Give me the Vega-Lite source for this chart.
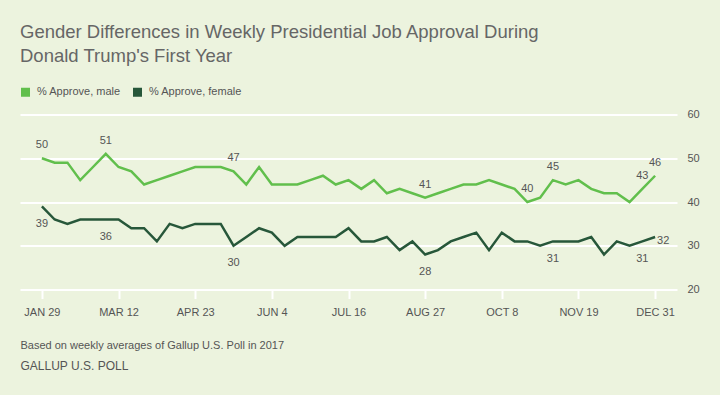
{
  "$schema": "https://vega.github.io/schema/vega-lite/v6.json",
  "autosize": {"type": "none"},
  "width": 657,
  "height": 175,
  "padding": {"left": 20, "top": 114.5, "right": 43, "bottom": 105.5},
  "background": "#ECF3DE",
  "config": {
    "view": {"stroke": null},
    "font": "Liberation Sans"
  },
  "title": {
    "text": ["Gender Differences in Weekly Presidential Job Approval During", "Donald Trump's First Year"],
    "anchor": "start",
    "frame": "group",
    "font": "Liberation Sans",
    "fontSize": 18.5,
    "fontWeight": "normal",
    "color": "#666666",
    "lineHeight": 24,
    "baseline": "alphabetic",
    "offset": 6.5
  },
  "data": {
    "values": [
      {"date": "2017-01-29", "group": "% Approve, male", "value": 50, "label": true},
      {"date": "2017-02-05", "group": "% Approve, male", "value": 49, "label": false},
      {"date": "2017-02-12", "group": "% Approve, male", "value": 49, "label": false},
      {"date": "2017-02-19", "group": "% Approve, male", "value": 45, "label": false},
      {"date": "2017-02-26", "group": "% Approve, male", "value": 48, "label": false},
      {"date": "2017-03-05", "group": "% Approve, male", "value": 51, "label": true},
      {"date": "2017-03-12", "group": "% Approve, male", "value": 48, "label": false},
      {"date": "2017-03-19", "group": "% Approve, male", "value": 47, "label": false},
      {"date": "2017-03-26", "group": "% Approve, male", "value": 44, "label": false},
      {"date": "2017-04-02", "group": "% Approve, male", "value": 45, "label": false},
      {"date": "2017-04-09", "group": "% Approve, male", "value": 46, "label": false},
      {"date": "2017-04-16", "group": "% Approve, male", "value": 47, "label": false},
      {"date": "2017-04-23", "group": "% Approve, male", "value": 48, "label": false},
      {"date": "2017-04-30", "group": "% Approve, male", "value": 48, "label": false},
      {"date": "2017-05-07", "group": "% Approve, male", "value": 48, "label": false},
      {"date": "2017-05-14", "group": "% Approve, male", "value": 47, "label": true},
      {"date": "2017-05-21", "group": "% Approve, male", "value": 44, "label": false},
      {"date": "2017-05-28", "group": "% Approve, male", "value": 48, "label": false},
      {"date": "2017-06-04", "group": "% Approve, male", "value": 44, "label": false},
      {"date": "2017-06-11", "group": "% Approve, male", "value": 44, "label": false},
      {"date": "2017-06-18", "group": "% Approve, male", "value": 44, "label": false},
      {"date": "2017-06-25", "group": "% Approve, male", "value": 45, "label": false},
      {"date": "2017-07-02", "group": "% Approve, male", "value": 46, "label": false},
      {"date": "2017-07-09", "group": "% Approve, male", "value": 44, "label": false},
      {"date": "2017-07-16", "group": "% Approve, male", "value": 45, "label": false},
      {"date": "2017-07-23", "group": "% Approve, male", "value": 43, "label": false},
      {"date": "2017-07-30", "group": "% Approve, male", "value": 45, "label": false},
      {"date": "2017-08-06", "group": "% Approve, male", "value": 42, "label": false},
      {"date": "2017-08-13", "group": "% Approve, male", "value": 43, "label": false},
      {"date": "2017-08-20", "group": "% Approve, male", "value": 42, "label": false},
      {"date": "2017-08-27", "group": "% Approve, male", "value": 41, "label": true},
      {"date": "2017-09-03", "group": "% Approve, male", "value": 42, "label": false},
      {"date": "2017-09-10", "group": "% Approve, male", "value": 43, "label": false},
      {"date": "2017-09-17", "group": "% Approve, male", "value": 44, "label": false},
      {"date": "2017-09-24", "group": "% Approve, male", "value": 44, "label": false},
      {"date": "2017-10-01", "group": "% Approve, male", "value": 45, "label": false},
      {"date": "2017-10-08", "group": "% Approve, male", "value": 44, "label": false},
      {"date": "2017-10-15", "group": "% Approve, male", "value": 43, "label": false},
      {"date": "2017-10-22", "group": "% Approve, male", "value": 40, "label": true},
      {"date": "2017-10-29", "group": "% Approve, male", "value": 41, "label": false},
      {"date": "2017-11-05", "group": "% Approve, male", "value": 45, "label": true},
      {"date": "2017-11-12", "group": "% Approve, male", "value": 44, "label": false},
      {"date": "2017-11-19", "group": "% Approve, male", "value": 45, "label": false},
      {"date": "2017-11-26", "group": "% Approve, male", "value": 43, "label": false},
      {"date": "2017-12-03", "group": "% Approve, male", "value": 42, "label": false},
      {"date": "2017-12-10", "group": "% Approve, male", "value": 42, "label": false},
      {"date": "2017-12-17", "group": "% Approve, male", "value": 40, "label": false},
      {"date": "2017-12-24", "group": "% Approve, male", "value": 43, "label": true},
      {"date": "2017-12-31", "group": "% Approve, male", "value": 46, "label": true},
      {"date": "2017-01-29", "group": "% Approve, female", "value": 39, "label": true},
      {"date": "2017-02-05", "group": "% Approve, female", "value": 36, "label": false},
      {"date": "2017-02-12", "group": "% Approve, female", "value": 35, "label": false},
      {"date": "2017-02-19", "group": "% Approve, female", "value": 36, "label": false},
      {"date": "2017-02-26", "group": "% Approve, female", "value": 36, "label": false},
      {"date": "2017-03-05", "group": "% Approve, female", "value": 36, "label": true},
      {"date": "2017-03-12", "group": "% Approve, female", "value": 36, "label": false},
      {"date": "2017-03-19", "group": "% Approve, female", "value": 34, "label": false},
      {"date": "2017-03-26", "group": "% Approve, female", "value": 34, "label": false},
      {"date": "2017-04-02", "group": "% Approve, female", "value": 31, "label": false},
      {"date": "2017-04-09", "group": "% Approve, female", "value": 35, "label": false},
      {"date": "2017-04-16", "group": "% Approve, female", "value": 34, "label": false},
      {"date": "2017-04-23", "group": "% Approve, female", "value": 35, "label": false},
      {"date": "2017-04-30", "group": "% Approve, female", "value": 35, "label": false},
      {"date": "2017-05-07", "group": "% Approve, female", "value": 35, "label": false},
      {"date": "2017-05-14", "group": "% Approve, female", "value": 30, "label": true},
      {"date": "2017-05-21", "group": "% Approve, female", "value": 32, "label": false},
      {"date": "2017-05-28", "group": "% Approve, female", "value": 34, "label": false},
      {"date": "2017-06-04", "group": "% Approve, female", "value": 33, "label": false},
      {"date": "2017-06-11", "group": "% Approve, female", "value": 30, "label": false},
      {"date": "2017-06-18", "group": "% Approve, female", "value": 32, "label": false},
      {"date": "2017-06-25", "group": "% Approve, female", "value": 32, "label": false},
      {"date": "2017-07-02", "group": "% Approve, female", "value": 32, "label": false},
      {"date": "2017-07-09", "group": "% Approve, female", "value": 32, "label": false},
      {"date": "2017-07-16", "group": "% Approve, female", "value": 34, "label": false},
      {"date": "2017-07-23", "group": "% Approve, female", "value": 31, "label": false},
      {"date": "2017-07-30", "group": "% Approve, female", "value": 31, "label": false},
      {"date": "2017-08-06", "group": "% Approve, female", "value": 32, "label": false},
      {"date": "2017-08-13", "group": "% Approve, female", "value": 29, "label": false},
      {"date": "2017-08-20", "group": "% Approve, female", "value": 31, "label": false},
      {"date": "2017-08-27", "group": "% Approve, female", "value": 28, "label": true},
      {"date": "2017-09-03", "group": "% Approve, female", "value": 29, "label": false},
      {"date": "2017-09-10", "group": "% Approve, female", "value": 31, "label": false},
      {"date": "2017-09-17", "group": "% Approve, female", "value": 32, "label": false},
      {"date": "2017-09-24", "group": "% Approve, female", "value": 33, "label": false},
      {"date": "2017-10-01", "group": "% Approve, female", "value": 29, "label": false},
      {"date": "2017-10-08", "group": "% Approve, female", "value": 33, "label": false},
      {"date": "2017-10-15", "group": "% Approve, female", "value": 31, "label": false},
      {"date": "2017-10-22", "group": "% Approve, female", "value": 31, "label": false},
      {"date": "2017-10-29", "group": "% Approve, female", "value": 30, "label": false},
      {"date": "2017-11-05", "group": "% Approve, female", "value": 31, "label": true},
      {"date": "2017-11-12", "group": "% Approve, female", "value": 31, "label": false},
      {"date": "2017-11-19", "group": "% Approve, female", "value": 31, "label": false},
      {"date": "2017-11-26", "group": "% Approve, female", "value": 32, "label": false},
      {"date": "2017-12-03", "group": "% Approve, female", "value": 28, "label": false},
      {"date": "2017-12-10", "group": "% Approve, female", "value": 31, "label": false},
      {"date": "2017-12-17", "group": "% Approve, female", "value": 30, "label": false},
      {"date": "2017-12-24", "group": "% Approve, female", "value": 31, "label": true},
      {"date": "2017-12-31", "group": "% Approve, female", "value": 32, "label": true}
    ]
  },
  "encoding": {
    "x": {
      "field": "date",
      "type": "temporal",
      "scale": {
        "type": "utc",
        "domain": [
          {"year": 2017, "month": 1, "date": 17, "utc": true},
          {"year": 2018, "month": 1, "date": 12, "utc": true}
        ]
      },
      "axis": {
        "values": [
          {"year": 2017, "month": 1, "date": 29, "utc": true},
          {"year": 2017, "month": 3, "date": 12, "utc": true},
          {"year": 2017, "month": 4, "date": 23, "utc": true},
          {"year": 2017, "month": 6, "date": 4, "utc": true},
          {"year": 2017, "month": 7, "date": 16, "utc": true},
          {"year": 2017, "month": 8, "date": 27, "utc": true},
          {"year": 2017, "month": 10, "date": 8, "utc": true},
          {"year": 2017, "month": 11, "date": 19, "utc": true},
          {"year": 2017, "month": 12, "date": 31, "utc": true}
        ],
        "labelExpr": "upper(utcFormat(datum.value, '%b %-d'))",
        "labelFontSize": 11,
        "labelColor": "#555555",
        "labelPadding": 7.5,
        "labelFlush": false,
        "labelOverlap": false,
        "grid": false,
        "domain": false,
        "ticks": true,
        "tickColor": "#FFFFFF",
        "tickWidth": 2,
        "tickSize": 9,
        "title": "Based on weekly averages of Gallup U.S. Poll in 2017",
        "titleFontSize": 11,
        "titleFontWeight": "normal",
        "titleColor": "#555555",
        "titleAnchor": "start",
        "titleAlign": "left",
        "titleBaseline": "alphabetic",
        "titleX": 0,
        "titleY": 58.8
      }
    }
  },
  "layer": [
    {
      "mark": {"type": "line", "strokeWidth": 2.5},
      "encoding": {
        "y": {
          "field": "value",
          "type": "quantitative",
          "scale": {"domain": [20, 60], "nice": false, "zero": false},
          "axis": {
            "orient": "right",
            "values": [20, 30, 40, 50, 60],
            "grid": true,
            "gridColor": "#FFFFFF",
            "gridWidth": 2,
            "gridOpacity": 1,
            "ticks": false,
            "domain": false,
            "labelFontSize": 11,
            "labelColor": "#555555",
            "labelPadding": 10,
            "title": null
          }
        },
        "color": {
          "field": "group",
          "type": "nominal",
          "scale": {
            "domain": ["% Approve, male", "% Approve, female"],
            "range": ["#61BF4C", "#27573A"]
          },
          "legend": {
            "orient": "none",
            "legendX": 0,
            "legendY": -28,
            "direction": "horizontal",
            "title": null,
            "symbolType": "square",
            "symbolSize": 81,
            "symbolStrokeWidth": 0,
            "labelFontSize": 11,
            "labelColor": "#555555",
            "labelOffset": 6,
            "columnPadding": 11,
            "encode": {
              "symbols": {
                "update": {
                  "fill": {"scale": "color", "field": "value"},
                  "stroke": {"value": "transparent"},
                  "opacity": {"value": 1}
                }
              }
            }
          }
        }
      }
    },
    {
      "transform": [{"filter": "datum.group === '% Approve, male' && datum.label"}],
      "mark": {"type": "text", "baseline": "alphabetic", "dy": -10, "fontSize": 11, "color": "#555555"},
      "encoding": {
        "y": {
          "field": "value",
          "type": "quantitative",
          "axis": {
            "orient": "left",
            "labels": false,
            "ticks": false,
            "domain": false,
            "grid": false,
            "title": "GALLUP U.S. POLL",
            "titleAngle": 0,
            "titleX": 0,
            "titleY": 254.8,
            "titleAlign": "left",
            "titleAnchor": "start",
            "titleBaseline": "alphabetic",
            "titleFontSize": 12,
            "titleFontWeight": "normal",
            "titleColor": "#555555"
          }
        },
        "text": {"field": "value", "type": "quantitative"}
      }
    },
    {
      "transform": [{"filter": "datum.group === '% Approve, female' && datum.label && !(utcmonth(datum.date) === 11 && utcdate(datum.date) === 31)"}],
      "mark": {"type": "text", "baseline": "alphabetic", "dy": 20.5, "fontSize": 11, "color": "#555555"},
      "encoding": {
        "y": {"field": "value", "type": "quantitative", "axis": null},
        "text": {"field": "value", "type": "quantitative"}
      }
    },
    {
      "transform": [{"filter": "datum.group === '% Approve, female' && datum.label && utcmonth(datum.date) === 11 && utcdate(datum.date) === 31"}],
      "mark": {"type": "text", "baseline": "alphabetic", "align": "left", "dx": 2, "dy": 7, "fontSize": 11, "color": "#555555"},
      "encoding": {
        "y": {"field": "value", "type": "quantitative", "axis": null},
        "text": {"field": "value", "type": "quantitative"}
      }
    }
  ],
  "resolve": {"axis": {"y": "independent"}}
}
